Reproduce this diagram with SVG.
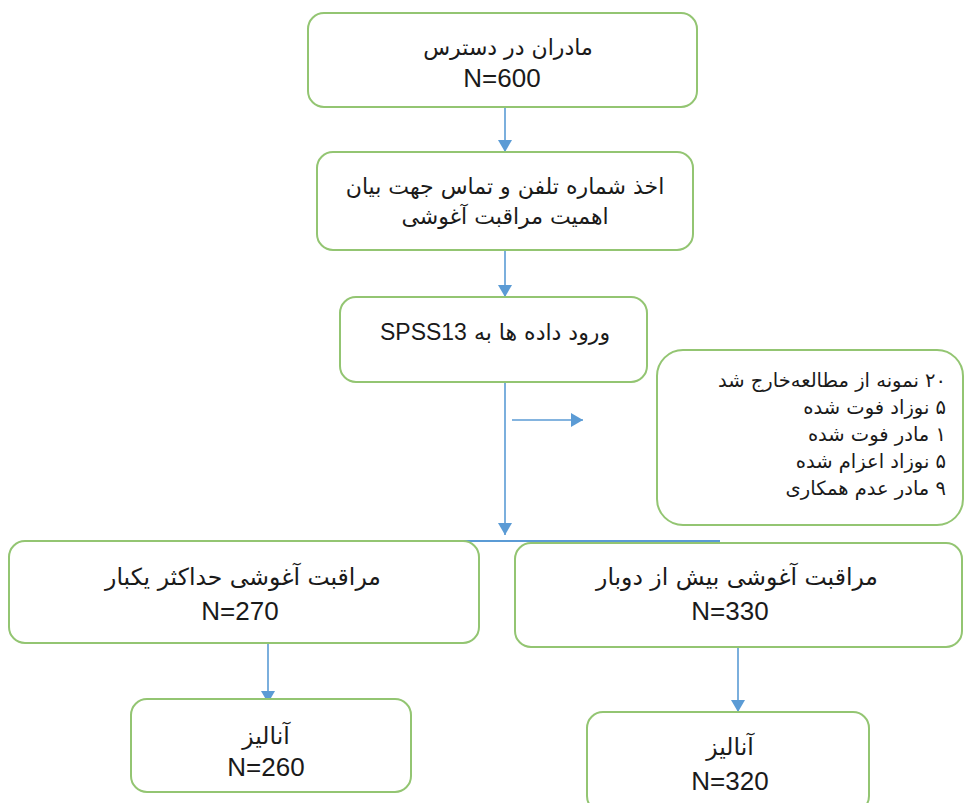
<svg xmlns="http://www.w3.org/2000/svg" width="966" height="803" viewBox="0 0 966 803">
<style>
.box{fill:#fff;stroke:#93c572;stroke-width:2}
.fa{font-family:"DejaVu Sans","Liberation Sans",sans-serif;font-size:22px;fill:#1a1a1a}
.fs{font-family:"DejaVu Sans","Liberation Sans",sans-serif;font-size:19.5px;fill:#1a1a1a}
.fb{font-family:"DejaVu Sans","Liberation Sans",sans-serif;font-size:23.5px;fill:#1a1a1a}
.n{font-family:"Liberation Sans",sans-serif;font-size:26px;fill:#1a1a1a;text-anchor:middle}
.c{stroke:#5b9bd5;stroke-width:1.6;fill:none}
</style>
<defs>
<marker id="ah" markerWidth="12" markerHeight="14" refX="12" refY="7" orient="auto" markerUnits="userSpaceOnUse">
<path d="M0,0 L12,7 L0,14 Z" fill="#5b9bd5"/>
</marker>
</defs>
<rect width="966" height="803" fill="#fff"/>
<g id="connectors">
<line class="c" x1="505" y1="108" x2="505" y2="152" marker-end="url(#ah)"/>
<line class="c" x1="505" y1="251" x2="505" y2="297" marker-end="url(#ah)"/>
<line class="c" x1="505" y1="383" x2="505" y2="535" marker-end="url(#ah)"/>
<line class="c" x1="512" y1="420" x2="583" y2="420" marker-end="url(#ah)"/>
<line x1="320" y1="541" x2="720" y2="541" stroke="#5b9bd5" stroke-width="2"/>
<line class="c" x1="268" y1="644" x2="268" y2="703" marker-end="url(#ah)"/>
<line class="c" x1="738" y1="648" x2="738" y2="712" marker-end="url(#ah)"/>
</g>
<g id="n1">
<rect class="box" x="308" y="13" width="389" height="94" rx="16"/>
<text class="fa" x="508" y="55" text-anchor="middle" direction="rtl">مادران در دسترس</text>
<text class="n" x="502" y="87">N=600</text>
</g>
<g id="n2">
<rect class="box" x="317" y="152" width="376" height="98" rx="16"/>
<text class="fa" x="505" y="194" text-anchor="middle" direction="rtl">اخذ شماره تلفن و تماس جهت بیان</text>
<text class="fa" x="505" y="224" text-anchor="middle" direction="rtl">اهمیت مراقبت آغوشی</text>
</g>
<g id="n3">
<rect class="box" x="340" y="297" width="307" height="85" rx="16"/>
<text class="fa" x="495" y="340" text-anchor="middle" direction="rtl">ورود داده ها به <tspan font-family="Liberation Sans" font-size="23">SPSS13</tspan></text>
</g>
<g id="n4">
<rect class="box" x="657" y="350" width="306" height="175" rx="26"/>
<text class="fs" x="946" y="387" direction="rtl">۲۰ نمونه از مطالعه‌خارج شد</text>
<text class="fs" x="946" y="414" direction="rtl">۵ نوزاد فوت شده</text>
<text class="fs" x="946" y="441" direction="rtl">۱ مادر فوت شده</text>
<text class="fs" x="946" y="468" direction="rtl">۵ نوزاد اعزام شده</text>
<text class="fs" x="946" y="495" direction="rtl">۹ مادر عدم همکاری</text>
</g>
<g id="n5">
<rect class="box" x="9" y="541" width="470" height="102" rx="16"/>
<text class="fb" x="243" y="585" text-anchor="middle" direction="rtl">مراقبت آغوشی حداکثر یکبار</text>
<text class="n" x="240" y="620">N=270</text>
</g>
<g id="n6">
<rect class="box" x="515" y="543" width="447" height="104" rx="16"/>
<text class="fb" x="737" y="585" text-anchor="middle" direction="rtl">مراقبت آغوشی بیش از دوبار</text>
<text class="n" x="730" y="620">N=330</text>
</g>
<g id="n7">
<rect class="box" x="131" y="699" width="280" height="93" rx="16"/>
<text class="fb" x="266" y="744" text-anchor="middle" direction="rtl">آنالیز</text>
<text class="n" x="266" y="776">N=260</text>
</g>
<g id="n8">
<rect class="box" x="587" y="712" width="282" height="100" rx="16"/>
<text class="fb" x="730" y="755" text-anchor="middle" direction="rtl">آنالیز</text>
<text class="n" x="730" y="790">N=320</text>
</g>
</svg>
